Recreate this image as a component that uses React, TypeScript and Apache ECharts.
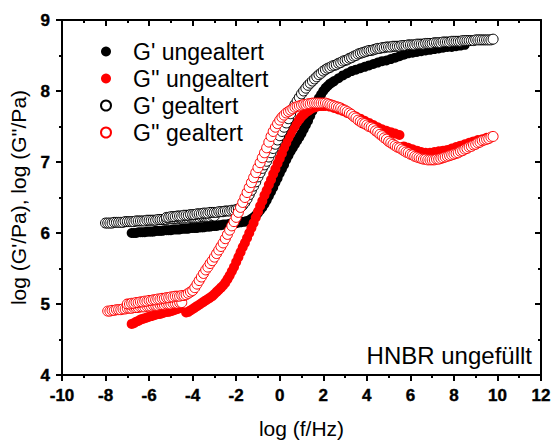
import React, { useEffect, useRef } from "react";
import * as echarts from "echarts";

const xTicks = { min: -10, max: 12, interval: 2 };
const yTicks = { min: 4, max: 9, interval: 1 };

const seriesNames = ["G' ungealtert", "G'' ungealtert", "G' gealtert", "G'' gealtert"];
const annotation = "HNBR ungefüllt";
const xTitle = "log (f/Hz)";
const yTitle = "log (G'/Pa), log (G''/Pa)";

// G' ungealtert (filled black)
const gPrimeUnaged: number[][] = [
  [-6.8,6.00],[-6.7,6.00],[-6.6,6.00],[-6.5,6.01],[-6.4,6.01],[-6.3,6.01],[-6.2,6.01],[-6.1,6.02],[-6.0,6.02],[-5.9,6.02],[-5.8,6.02],[-5.7,6.03],[-5.6,6.03],[-5.5,6.03],[-5.4,6.03],[-5.3,6.04],[-5.2,6.04],[-5.1,6.04],[-5.0,6.04],[-4.9,6.05],[-4.8,6.05],[-4.7,6.05],[-4.6,6.05],[-4.5,6.06],[-4.4,6.06],[-4.3,6.06],[-4.2,6.06],[-4.1,6.07],[-4.0,6.07],[-3.9,6.07],[-3.8,6.07],[-3.7,6.08],[-3.6,6.08],[-3.5,6.08],[-3.4,6.09],[-3.3,6.09],[-3.2,6.09],[-3.1,6.10],[-3.0,6.10],[-2.9,6.10],[-2.8,6.11],[-2.7,6.11],[-2.6,6.12],[-2.5,6.12],[-2.4,6.12],[-2.3,6.13],[-2.2,6.13],[-2.1,6.14],[-2.0,6.14],[-1.9,6.15],[-1.8,6.15],[-1.7,6.16],[-1.6,6.16],[-1.5,6.17],[-1.4,6.18],[-1.3,6.20],[-1.2,6.22],[-1.1,6.25],[-1.0,6.28],[-0.9,6.32],[-0.8,6.36],[-0.7,6.41],[-0.6,6.46],[-0.5,6.52],[-0.4,6.58],[-0.3,6.64],[-0.2,6.71],[-0.1,6.77],[0.0,6.84],[0.1,6.90],[0.2,6.96],[0.3,7.03],[0.4,7.09],[0.5,7.15],[0.6,7.20],[0.7,7.25],[0.8,7.30],[0.9,7.35],[1.0,7.40],[1.1,7.46],[1.2,7.52],[1.3,7.58],[1.4,7.65],[1.5,7.72],[1.6,7.78],[1.7,7.84],[1.8,7.90],[1.9,7.95],[2.0,8.00],[2.1,8.04],[2.2,8.07],[2.3,8.10],[2.4,8.12],[2.5,8.14],[2.7,8.18],[2.9,8.22],[3.1,8.25],[3.3,8.28],[3.5,8.30],[3.7,8.32],[3.9,8.34],[4.1,8.36],[4.3,8.38],[4.5,8.40],[4.7,8.42],[4.9,8.43],[5.1,8.45],[5.3,8.47],[5.5,8.49],[5.7,8.51],[5.9,8.53],[6.1,8.54],[6.3,8.55],[6.5,8.56],[6.7,8.57],[6.9,8.58],[7.1,8.59],[7.3,8.60],[7.5,8.61],[7.7,8.62],[7.9,8.62],[8.1,8.63],[8.3,8.64],[8.5,8.65]
];

// G'' ungealtert (filled red)
const gDoublePrimeUnaged: number[][] = [
  [-6.8,4.72],[-6.7,4.73],[-6.6,4.75],[-6.5,4.76],[-6.4,4.78],[-6.3,4.79],[-6.2,4.80],[-6.1,4.81],[-6.0,4.82],[-5.9,4.83],[-5.8,4.84],[-5.7,4.85],[-5.6,4.86],[-5.5,4.86],[-5.4,4.87],[-5.3,4.88],[-5.2,4.89],[-5.1,4.89],[-5.0,4.90],[-4.9,4.91],[-4.8,4.92],[-4.7,4.93],[-4.6,4.94],[-4.3,4.88],[-4.2,4.89],[-4.1,4.91],[-4.0,4.93],[-3.9,4.95],[-3.8,4.97],[-3.7,4.99],[-3.6,5.01],[-3.5,5.03],[-3.4,5.05],[-3.3,5.07],[-3.2,5.09],[-3.1,5.11],[-3.0,5.14],[-2.9,5.17],[-2.8,5.20],[-2.7,5.23],[-2.6,5.26],[-2.5,5.30],[-2.4,5.35],[-2.3,5.40],[-2.2,5.46],[-2.1,5.52],[-2.0,5.59],[-1.9,5.66],[-1.8,5.73],[-1.7,5.80],[-1.6,5.86],[-1.5,5.93],[-1.4,6.00],[-1.3,6.07],[-1.2,6.14],[-1.1,6.22],[-1.0,6.30],[-0.9,6.38],[-0.8,6.45],[-0.7,6.53],[-0.6,6.60],[-0.5,6.68],[-0.4,6.75],[-0.3,6.83],[-0.2,6.90],[-0.1,6.98],[0.0,7.05],[0.1,7.12],[0.2,7.20],[0.3,7.27],[0.4,7.34],[0.5,7.40],[0.6,7.46],[0.7,7.51],[0.8,7.56],[0.9,7.60],[1.0,7.64],[1.1,7.67],[1.2,7.70],[1.3,7.72],[1.4,7.74],[1.5,7.76],[1.6,7.77],[1.7,7.78],[1.8,7.79],[1.9,7.79],[2.0,7.79],[2.1,7.79],[2.3,7.78],[2.5,7.76],[2.7,7.74],[2.9,7.72],[3.1,7.69],[3.3,7.67],[3.5,7.64],[3.7,7.61],[3.9,7.58],[4.1,7.55],[4.3,7.52],[4.5,7.49],[4.7,7.46],[4.9,7.44],[5.1,7.42],[5.3,7.40],[5.5,7.38],[5.7,7.22],[5.9,7.20],[6.1,7.18],[6.3,7.16],[6.5,7.14],[6.7,7.13],[6.9,7.13],[7.1,7.14],[7.3,7.15],[7.5,7.16],[7.7,7.17],[7.9,7.19],[8.1,7.21],[8.3,7.23],[8.5,7.25],[8.7,7.27],[8.9,7.29],[9.1,7.31],[9.3,7.32],[9.5,7.34]
];

// G' gealtert (open black): low-frequency lower strand, then upper strand and rise
const gPrimeAged: number[][] = [
  [-8.0,6.14],[-7.9,6.14],[-7.8,6.14],[-7.7,6.14],[-7.6,6.15],[-7.5,6.15],[-7.4,6.15],[-7.3,6.15],[-7.2,6.15],[-7.1,6.16],[-7.0,6.16],[-6.9,6.16],[-6.8,6.16],[-6.7,6.16],[-6.6,6.17],[-6.5,6.17],[-6.4,6.17],[-6.3,6.17],[-6.2,6.17],[-6.1,6.18],[-6.0,6.18],[-5.9,6.18],[-5.8,6.18],[-5.7,6.18],[-5.6,6.19],[-5.5,6.19],[-5.4,6.19],[-5.3,6.19],[-5.2,6.19],[-5.1,6.20],[-5.0,6.20],[-4.9,6.20],[-4.8,6.20],[-4.7,6.20],[-4.6,6.21],[-4.5,6.21],[-4.4,6.21],[-4.3,6.21],[-4.2,6.21],[-4.1,6.22],[-4.0,6.22],[-3.9,6.22],[-3.8,6.22],[-3.7,6.22],[-3.6,6.23],[-3.5,6.23],[-3.4,6.23],[-3.3,6.23],[-3.2,6.23],[-3.1,6.24],[-3.0,6.24],
  [-5.2,6.22],[-5.1,6.22],[-5.0,6.23],[-4.9,6.23],[-4.8,6.23],[-4.7,6.24],[-4.6,6.24],[-4.5,6.24],[-4.4,6.25],[-4.3,6.25],[-4.2,6.25],[-4.1,6.26],[-4.0,6.26],[-3.9,6.26],[-3.8,6.27],[-3.7,6.27],[-3.6,6.27],[-3.5,6.28],[-3.4,6.28],[-3.3,6.28],[-3.2,6.29],[-3.1,6.29],[-3.0,6.29],[-2.9,6.29],[-2.8,6.30],[-2.7,6.30],[-2.6,6.30],[-2.5,6.31],[-2.4,6.31],[-2.3,6.31],[-2.2,6.32],[-2.1,6.32],[-2.0,6.33],[-1.9,6.34],[-1.8,6.36],[-1.7,6.39],[-1.6,6.43],[-1.5,6.48],[-1.4,6.54],[-1.3,6.60],[-1.2,6.66],[-1.1,6.72],[-1.0,6.79],[-0.9,6.85],[-0.8,6.91],[-0.7,6.96],[-0.6,7.01],[-0.5,7.07],[-0.4,7.13],[-0.3,7.19],[-0.2,7.25],[-0.1,7.31],[0.0,7.37],[0.1,7.43],[0.2,7.49],[0.3,7.55],[0.4,7.61],[0.5,7.68],[0.6,7.75],[0.7,7.81],[0.8,7.86],[0.9,7.91],[1.0,7.96],[1.1,8.00],[1.2,8.04],[1.3,8.08],[1.4,8.11],[1.5,8.14],[1.6,8.17],[1.7,8.20],[1.8,8.23],[1.9,8.25],[2.0,8.28],[2.1,8.30],[2.2,8.32],[2.3,8.33],[2.4,8.35],[2.5,8.36],[2.6,8.37],[2.7,8.39],[2.8,8.40],[2.9,8.42],[3.0,8.43],[3.1,8.44],[3.2,8.46],[3.3,8.47],[3.4,8.49],[3.5,8.50],[3.6,8.52],[3.7,8.53],[3.8,8.54],[3.9,8.55],[4.0,8.56],[4.1,8.57],[4.2,8.57],[4.3,8.58],[4.4,8.59],[4.5,8.60],[4.6,8.60],[4.7,8.61],[4.8,8.61],[4.9,8.62],[5.0,8.62],[5.1,8.62],[5.2,8.63],[5.3,8.63],[5.4,8.63],[5.5,8.63],[5.6,8.64],[5.7,8.64],[5.8,8.64],[5.9,8.65],[6.0,8.65],[6.1,8.65],[6.2,8.65],[6.3,8.66],[6.4,8.66],[6.5,8.66],[6.6,8.66],[6.7,8.67],[6.8,8.67],[6.9,8.67],[7.0,8.67],[7.1,8.68],[7.2,8.68],[7.3,8.68],[7.4,8.68],[7.5,8.69],[7.6,8.69],[7.7,8.69],[7.8,8.69],[7.9,8.70],[8.0,8.70],[8.1,8.70],[8.2,8.70],[8.3,8.70],[8.4,8.71],[8.5,8.71],[8.6,8.71],[8.7,8.71],[8.8,8.71],[8.9,8.71],[9.0,8.72],[9.1,8.72],[9.2,8.72],[9.3,8.72],[9.4,8.72],[9.5,8.72],[9.6,8.72],[9.7,8.72],[9.8,8.73]
];

// G'' gealtert (open red): lower strand, upper strand, then rise / peak / minimum
const gDoublePrimeAged: number[][] = [
  [-7.9,4.90],[-7.8,4.90],[-7.7,4.91],[-7.6,4.91],[-7.5,4.92],[-7.4,4.92],[-7.3,4.92],[-7.2,4.93],[-7.1,4.93],[-7.0,4.94],[-6.9,4.94],[-6.8,4.94],[-6.7,4.95],[-6.6,4.95],[-6.5,4.95],[-6.4,4.96],[-6.3,4.96],[-6.2,4.96],[-6.1,4.97],[-6.0,4.97],[-5.9,4.97],[-5.8,4.98],[-5.7,4.98],[-5.6,4.98],[-5.5,4.99],[-5.4,4.99],[-5.3,4.99],[-5.2,5.00],[-5.1,5.00],[-5.0,5.00],[-4.9,5.01],[-4.8,5.01],[-4.7,5.01],[-4.6,5.02],[-4.5,5.02],
  [-7.0,5.00],[-6.9,5.00],[-6.8,5.01],[-6.7,5.01],[-6.6,5.02],[-6.5,5.02],[-6.4,5.03],[-6.3,5.03],[-6.2,5.04],[-6.1,5.04],[-6.0,5.05],[-5.9,5.05],[-5.8,5.06],[-5.7,5.06],[-5.6,5.07],[-5.5,5.07],[-5.4,5.08],[-5.3,5.08],[-5.2,5.09],[-5.1,5.09],[-5.0,5.10],[-4.9,5.10],[-4.8,5.11],[-4.7,5.11],[-4.6,5.11],[-4.5,5.12],[-4.4,5.12],[-4.3,5.13],[-4.2,5.15],[-4.1,5.17],[-4.0,5.19],[-3.9,5.23],[-3.8,5.28],[-3.7,5.33],[-3.6,5.38],[-3.5,5.43],[-3.4,5.48],[-3.3,5.52],[-3.2,5.57],[-3.1,5.61],[-3.0,5.66],[-2.9,5.71],[-2.8,5.76],[-2.7,5.81],[-2.6,5.86],[-2.5,5.92],[-2.4,5.98],[-2.3,6.04],[-2.2,6.10],[-2.1,6.16],[-2.0,6.22],[-1.9,6.29],[-1.8,6.36],[-1.7,6.43],[-1.6,6.50],[-1.5,6.57],[-1.4,6.64],[-1.3,6.71],[-1.2,6.78],[-1.1,6.85],[-1.0,6.92],[-0.9,6.99],[-0.8,7.06],[-0.7,7.13],[-0.6,7.20],[-0.5,7.28],[-0.4,7.36],[-0.3,7.43],[-0.2,7.49],[-0.1,7.54],[0.0,7.59],[0.1,7.63],[0.2,7.66],[0.3,7.69],[0.4,7.71],[0.5,7.73],[0.6,7.75],[0.7,7.77],[0.8,7.78],[0.9,7.79],[1.0,7.80],[1.1,7.81],[1.2,7.81],[1.3,7.82],[1.4,7.82],[1.5,7.83],[1.6,7.83],[1.7,7.83],[1.8,7.83],[1.9,7.83],[2.0,7.83],[2.1,7.83],[2.2,7.82],[2.3,7.81],[2.4,7.80],[2.5,7.79],[2.6,7.78],[2.7,7.77],[2.8,7.76],[2.9,7.74],[3.0,7.73],[3.1,7.71],[3.2,7.69],[3.3,7.67],[3.4,7.64],[3.5,7.62],[3.6,7.59],[3.7,7.57],[3.8,7.55],[3.9,7.54],[4.0,7.52],[4.1,7.50],[4.2,7.49],[4.3,7.47],[4.4,7.44],[4.5,7.42],[4.6,7.39],[4.7,7.37],[4.8,7.34],[4.9,7.32],[5.0,7.29],[5.1,7.27],[5.2,7.25],[5.3,7.23],[5.4,7.21],[5.5,7.20],[5.6,7.18],[5.7,7.16],[5.8,7.14],[5.9,7.13],[6.0,7.11],[6.1,7.10],[6.2,7.08],[6.3,7.07],[6.4,7.06],[6.5,7.05],[6.6,7.04],[6.7,7.04],[6.8,7.03],[6.9,7.03],[7.0,7.03],[7.1,7.03],[7.2,7.04],[7.3,7.04],[7.4,7.05],[7.5,7.06],[7.6,7.07],[7.7,7.08],[7.8,7.09],[7.9,7.10],[8.0,7.11],[8.1,7.12],[8.2,7.13],[8.3,7.15],[8.4,7.16],[8.5,7.18],[8.6,7.19],[8.7,7.21],[8.8,7.22],[8.9,7.24],[9.0,7.25],[9.1,7.27],[9.2,7.28],[9.3,7.30],[9.4,7.31],[9.5,7.32],[9.6,7.33],[9.7,7.35],[9.8,7.36]
];

const FONT = "Arial, Liberation Sans, Helvetica, sans-serif";
const BOLD_FONT = "Liberation Sans, Arial, sans-serif";

export default function App() {
  const ref = useRef<HTMLDivElement>(null);
  useEffect(() => {
    if (!ref.current) return;
    const chart = echarts.init(ref.current, null, { renderer: "svg" });
    const axisLine = { show: true, onZero: false, lineStyle: { color: "#000", width: 2 } };
    const tickLabel = {
      show: true, color: "#000", fontSize: 17, fontWeight: 700, fontFamily: BOLD_FONT, margin: 12,
      textBorderColor: "#000", textBorderWidth: 0.4,
    };
    const mkX = (pos: string, main: boolean) => ({
      type: "value",
      position: pos,
      min: xTicks.min,
      max: xTicks.max,
      interval: xTicks.interval,
      axisLine,
      axisTick: { show: true, inside: !main, length: 6, lineStyle: { width: 2, color: "#000" } },
      minorTick: { show: true, splitNumber: 2, length: 3, lineStyle: { width: 2, color: "#000" } },
      axisLabel: main ? tickLabel : { show: false },
      splitLine: { show: false },
      name: main ? xTitle : "",
      nameLocation: "middle",
      nameGap: 43,
      nameTextStyle: { color: "#000", fontSize: 21, fontFamily: FONT },
    });
    const mkY = (pos: string, main: boolean) => ({
      type: "value",
      position: pos,
      min: yTicks.min,
      max: yTicks.max,
      interval: yTicks.interval,
      axisLine,
      axisTick: { show: true, inside: !main, length: 6, lineStyle: { width: 2, color: "#000" } },
      minorTick: { show: true, splitNumber: 2, length: 3, lineStyle: { width: 2, color: "#000" } },
      axisLabel: main ? tickLabel : { show: false },
      splitLine: { show: false },
      name: main ? yTitle : "",
      nameLocation: "middle",
      nameGap: 26,
      nameTextStyle: { color: "#000", fontSize: 21, fontFamily: FONT },
    });
    const filled = (name: string, color: string, data: number[][]) => ({
      name,
      type: "scatter",
      data,
      symbol: "circle",
      symbolSize: 10,
      itemStyle: { color, opacity: 1 },
      emphasis: { disabled: true },
    });
    const hollow = (name: string, color: string, data: number[][]) => ({
      name,
      type: "scatter",
      data,
      symbol: "circle",
      symbolSize: 10,
      itemStyle: { color: "#fff", borderColor: color, borderWidth: 1, opacity: 1 },
      emphasis: { disabled: true },
    });
    chart.setOption({
      animation: false,
      backgroundColor: "#fff",
      grid: { left: 62, right: 10, top: 20, bottom: 66, containLabel: false, outerBoundsMode: "none" },
      xAxis: [mkX("bottom", true), mkX("top", false)],
      yAxis: [mkY("left", true), mkY("right", false)],
      legend: {
        show: true,
        orient: "vertical",
        left: 95,
        top: 35,
        itemWidth: 10,
        itemHeight: 10,
        itemGap: 4,
        data: seriesNames.map((n) => ({ name: n, icon: "circle" })),
        textStyle: { color: "#000", fontSize: 23, fontFamily: FONT, padding: [0, 0, 0, 17] },
      },
      graphic: [
        {
          type: "text",
          right: 19,
          top: 343,
          style: { text: annotation, fill: "#000", fontSize: 24, fontFamily: FONT },
        },
      ],
      series: [
        filled(seriesNames[0], "#000", gPrimeUnaged),
        filled(seriesNames[1], "#ff0000", gDoublePrimeUnaged),
        hollow(seriesNames[2], "#000", gPrimeAged),
        hollow(seriesNames[3], "#ff0000", gDoublePrimeAged),
      ],
    });
    return () => chart.dispose();
  }, []);
  return <div ref={ref} style={{ width: 551, height: 441, position: "absolute", left: 0, top: 0 }} />;
}
